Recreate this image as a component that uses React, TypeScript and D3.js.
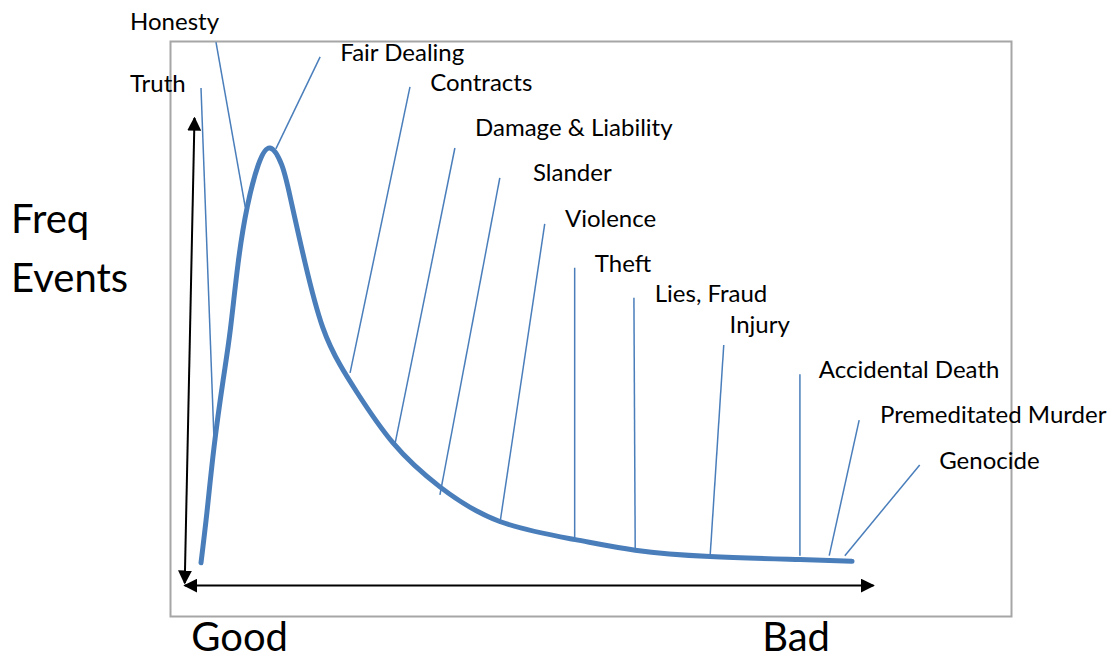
import * as d3 from "d3";

// curve: severity of event (good -> bad) vs relative frequency
const severity = [0, 0.9, 2.0, 3.4, 4.5, 5.7, 7.1, 8.8, 10.6, 12.4, 13.7, 16.0, 18.7, 21.4, 24.0, 29.5, 36.7, 45.9, 57.5, 66.7, 78.2, 92.0, 100];
const frequency = [1.7, 13.5, 29.1, 45.0, 56.9, 72.7, 86.0, 96.0, 100, 96.0, 88.4, 72.7, 57.5, 48.5, 42.0, 30.1, 19.7, 11.5, 7.2, 4.7, 3.2, 2.5, 2.1];

// annotations, all in chart units [severity, frequency]
const events = ["Truth", "Honesty", "Fair Dealing", "Contracts", "Damage & Liability", "Slander", "Violence", "Theft", "Lies, Fraud", "Injury", "Accidental Death", "Premeditated Murder", "Genocide"];
const eventPoint = [[2.0, 30.8], [6.8, 86.0], [11.5, 99.8], [22.9, 46.7], [29.8, 29.9], [36.7, 17.8], [45.9, 10.9], [57.4, 7.1], [66.7, 4.3], [78.2, 3.1], [92.0, 3.4], [96.5, 3.4], [98.9, 3.4]];
const leaderTop = [[0, 114.2], [2.3, 125.1], [18.3, 121.6], [32.1, 114.5], [39.0, 100.0], [45.9, 92.9], [52.8, 82.0], [57.4, 71.6], [66.5, 64.5], [80.3, 53.3], [92.0, 46.4], [101.1, 35.5], [110.4, 24.9]];
const labelAt = [[-10.9, 113.3], [-10.9, 128.0], [21.4, 120.6], [35.2, 113.5], [42.1, 102.8], [51.0, 92.2], [55.9, 81.3], [60.5, 70.6], [69.7, 63.5], [81.2, 56.1], [94.9, 45.5], [104.3, 34.8], [113.4, 23.9]];

const axisTitle = ["Freq", "Events"];
const ends = ["Good", "Bad"];

const width = 1116;
const height = 660;
const blue = "#4a7ebb";
const font = "Lato, 'Open Sans', sans-serif";

export default function App() {
  const x = d3.scaleLinear([0, 100], [201, 852]);
  const y = d3.scaleLinear([0, 100], [570, 148]);
  const pts = severity.map((s, i) => [s, frequency[i]] as [number, number]);
  const line = d3.line<[number, number]>((d) => x(d[0]), (d) => y(d[1])).curve(d3.curveNatural);

  return (
    <svg width={width} height={height} style={{ position: "absolute", left: 0, top: 0, background: "#fff" }}>
      <defs>
        <marker id="ah" viewBox="0 0 10 10" refX="9" refY="5" markerWidth="7" markerHeight="7" markerUnits="strokeWidth" orient="auto-start-reverse">
          <path d="M0,0 L10,5 L0,10 z" fill="#000" />
        </marker>
      </defs>
      <rect x={170.5} y={41.5} width={841} height={575} fill="none" stroke="#a6a6a6" strokeWidth={2} />

      {/* axes arrows */}
      <line x1={x(-2.5)} y1={y(-3.1)} x2={x(-1.0)} y2={y(107.1)} stroke="#000" strokeWidth={2} markerStart="url(#ah)" markerEnd="url(#ah)" />
      <line x1={x(-2.5)} y1={y(-3.7)} x2={x(103.3)} y2={y(-3.7)} stroke="#000" strokeWidth={2} markerStart="url(#ah)" markerEnd="url(#ah)" />

      {/* leaders */}
      <g stroke={blue} strokeWidth={1.5}>
        {events.map((e, i) => (
          <line key={e} x1={x(leaderTop[i][0])} y1={y(leaderTop[i][1])} x2={x(eventPoint[i][0])} y2={y(eventPoint[i][1])} />
        ))}
      </g>

      <path d={line(pts) || ""} fill="none" stroke={blue} strokeWidth={5} strokeLinecap="round" strokeLinejoin="round" />

      <g fontFamily={font} fontSize={24} fill="#000">
        {events.map((e, i) => (
          <text key={e} x={x(labelAt[i][0])} y={y(labelAt[i][1])}>{e}</text>
        ))}
      </g>

      <g fontFamily={font} fontSize={40} fill="#000">
        <text x={11} y={233}>{axisTitle[0]}</text>
        <text x={11} y={292}>{axisTitle[1]}</text>
        <text x={x(-1.5)} y={651}>{ends[0]}</text>
        <text x={x(86.2)} y={651}>{ends[1]}</text>
      </g>
    </svg>
  );
}
